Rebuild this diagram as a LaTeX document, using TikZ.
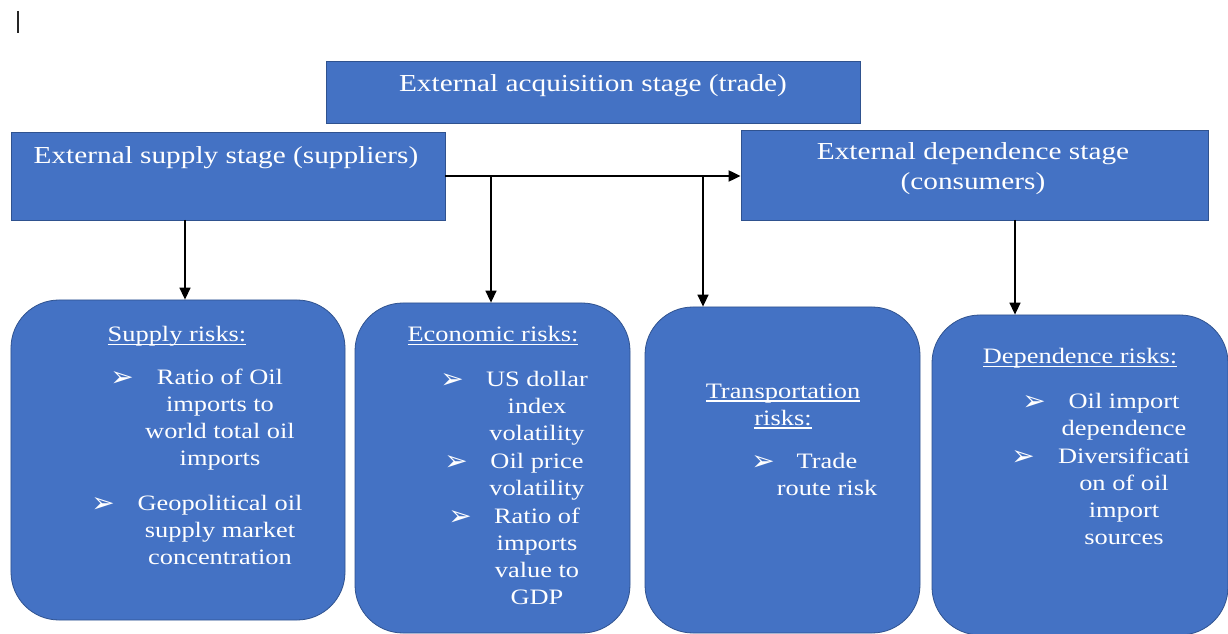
\documentclass[tikz,border=0pt]{standalone}
\usepackage{fontspec}
\setmainfont[FakeStretch=1.2]{Liberation Serif}
\newfontfamily\bltfam{DejaVu Sans}
\usetikzlibrary{arrows.meta}
\definecolor{boxblue}{HTML}{4472C4}
\definecolor{boxedge}{HTML}{2F528F}
\newcommand\myul[1]{\setbox0\hbox{#1}\rlap{\rule[-3.5bp]{\wd0}{1.2bp}}\box0}
\begin{document}
\begin{tikzpicture}[x=1bp,y=-1bp,
  stagebox/.style={rectangle,fill=boxblue,draw=boxedge,line width=0.8bp,inner sep=0pt},
  riskbox/.style={rectangle,fill=boxblue,draw=boxedge,line width=0.8bp,rounded corners=48bp,inner sep=0pt},
  hdr/.style={font=\fontsize{24.4bp}{30bp}\selectfont,text=white,inner sep=0pt,anchor=base},
  txt/.style={font=\fontsize{22bp}{27bp}\selectfont,text=white,inner sep=0pt,anchor=base},
  blt/.style={font=\bltfam\fontsize{28bp}{30bp}\selectfont,text=white,inner sep=0pt,anchor=base},
  conn/.style={draw=black,line width=1.5bp,-{Triangle[length=12bp,width=11bp]}}]
\useasboundingbox (0,0) rectangle (1228,634);
\fill[white] (0,0) rectangle (1228,634);
% cursor mark
\draw[line width=1.5bp,black!85] (18,11) -- (18,33);
% stage boxes
\node[stagebox,minimum width=534bp,minimum height=62bp] (trade) at (593,92) {};
\node[stagebox,minimum width=434bp,minimum height=88bp] (supply) at (228,176) {};
\node[stagebox,minimum width=467bp,minimum height=90bp] (depend) at (974.5,175) {};
% risk boxes
\node[riskbox,minimum width=334bp,minimum height=320bp] (sr) at (178,460) {};
\node[riskbox,minimum width=275bp,minimum height=330bp] (er) at (492.5,468) {};
\node[riskbox,minimum width=275bp,minimum height=326bp] (tr) at (782.5,470) {};
\node[riskbox,minimum width=296bp,minimum height=320bp] (dr) at (1080,475) {};
% header texts
\node[hdr] (tradet) at (593,92) {External acquisition stage (trade)};
\node[hdr] (supplyt) at (226,164) {External supply stage (suppliers)};
\node[hdr] (dependt1) at (973,160) {External dependence stage};
\node[hdr] (dependt2) at (973,190) {(consumers)};
% connectors
\coordinate (j1) at (491,176);
\coordinate (j2) at (703,176);
\coordinate (a1) at (185,220);
\coordinate (a4) at (1015,220);
\draw[conn,line width=2bp] (supply.east) -- (supply.east -| depend.west);
\draw[conn] (j1) -- (j1 |- er.north);
\draw[conn] (j2) -- (j2 |- tr.north);
\draw[conn] (a1) -- (a1 |- sr.north);
\draw[conn] (a4) -- (a4 |- dr.north);
% supply risks
\node[txt] (s0) at (177,342) {\myul{Supply risks:}};
\node[blt] (sb1) at (122,386) {➢};
\node[txt] (s1) at (220,384) {Ratio of Oil};
\node[txt] (s2) at (220,411) {imports to};
\node[txt] (s3) at (220,438) {world total oil};
\node[txt] (s4) at (220,465) {imports};
\node[blt] (sb2) at (103,512) {➢};
\node[txt] (s5) at (220,510) {Geopolitical oil};
\node[txt] (s6) at (220,537) {supply market};
\node[txt] (s7) at (220,564) {concentration};
% economic risks
\node[txt] (e0) at (493,342) {\myul{Economic risks:}};
\node[blt] (eb1) at (452,388) {➢};
\node[txt] (e1) at (537,386) {US dollar};
\node[txt] (e2) at (537,413) {index};
\node[txt] (e3) at (537,440) {volatility};
\node[blt] (eb2) at (456,470) {➢};
\node[txt] (e4) at (537,468) {Oil price};
\node[txt] (e5) at (537,495) {volatility};
\node[blt] (eb3) at (460,525) {➢};
\node[txt] (e6) at (537,523) {Ratio of};
\node[txt] (e7) at (537,550) {imports};
\node[txt] (e8) at (537,577) {value to};
\node[txt] (e9) at (537,604) {GDP};
% transportation risks
\node[txt] (t0) at (783,398) {\myul{Transportation}};
\node[txt] (t0b) at (783,425) {\myul{risks:}};
\node[blt] (tb1) at (763,470) {➢};
\node[txt] (t1) at (827,468) {Trade};
\node[txt] (t2) at (827,495) {route risk};
% dependence risks
\node[txt] (d0) at (1080,364) {\myul{Dependence risks:}};
\node[blt] (db1) at (1034,410) {➢};
\node[txt] (d1) at (1124,408) {Oil import};
\node[txt] (d2) at (1124,435) {dependence};
\node[blt] (db2) at (1023,465) {➢};
\node[txt] (d3) at (1124,463) {Diversificati};
\node[txt] (d4) at (1124,490) {on of oil};
\node[txt] (d5) at (1124,517) {import};
\node[txt] (d6) at (1124,544) {sources};
\end{tikzpicture}
\end{document}
